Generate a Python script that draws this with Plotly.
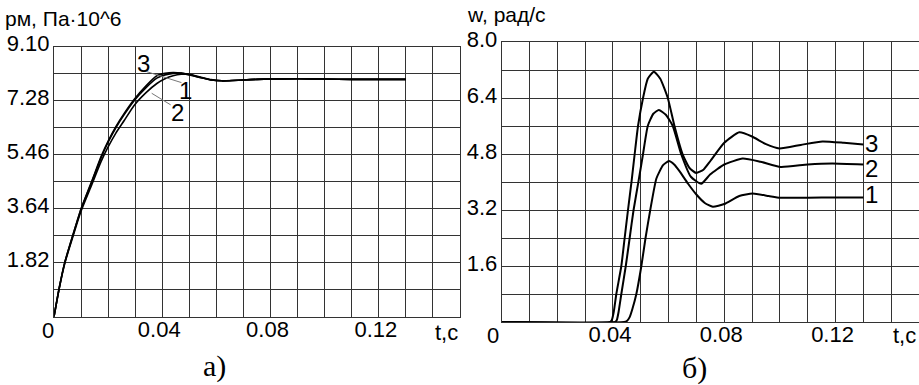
import plotly.graph_objects as go

# ---------------- data: panel a) pressure ----------------
T_P = [0, 0.002, 0.004, 0.007, 0.010, 0.014, 0.0175, 0.020, 0.0228, 0.026, 0.0296, 0.034,
       0.038, 0.041, 0.044, 0.047, 0.050, 0.054, 0.058, 0.062, 0.066, 0.070, 0.075, 0.080,
       0.090, 0.100, 0.110, 0.120, 0.130]
P1 = [0, 1.0, 1.83, 2.75, 3.62, 4.55, 5.38, 5.88, 6.36, 6.82, 7.28, 7.72, 8.04, 8.15, 8.20,
      8.21, 8.16, 8.06, 7.98, 7.95, 7.96, 7.98, 8.00, 8.01, 8.02, 8.01, 8.00, 8.00, 8.00]
P2 = [0, 0.98, 1.80, 2.70, 3.56, 4.46, 5.25, 5.72, 6.18, 6.62, 7.12, 7.55, 7.86, 8.02, 8.12,
      8.17, 8.17, 8.08, 7.99, 7.95, 7.96, 7.98, 8.00, 8.01, 8.02, 8.01, 8.00, 8.00, 8.00]
P3 = [0, 1.0, 1.84, 2.76, 3.64, 4.58, 5.42, 5.92, 6.40, 6.86, 7.32, 7.78, 8.12, 8.20, 8.23,
      8.21, 8.15, 8.06, 7.98, 7.95, 7.96, 7.98, 8.00, 8.01, 8.02, 8.01, 8.00, 8.00, 8.00]

# ---------------- data: panel б) angular speed ----------------
T_W1 = [0, 0.0440, 0.0450, 0.0460, 0.0470, 0.0484, 0.0502, 0.0517, 0.0534, 0.0556, 0.0580,
        0.0601, 0.0620, 0.0639, 0.0670, 0.0699, 0.0730, 0.0759, 0.0800, 0.0854, 0.0902,
        0.0960, 0.1001, 0.1100, 0.1200, 0.1300]
W1 = [0, 0, 0.03, 0.14, 0.38, 0.8, 1.6, 2.4, 3.2, 4.1, 4.48, 4.60, 4.50, 4.31, 3.95, 3.65,
      3.40, 3.29, 3.37, 3.60, 3.67, 3.60, 3.55, 3.55, 3.56, 3.56]
T_W2 = [0, 0.0408, 0.0414, 0.0420, 0.0430, 0.0446, 0.0460, 0.0474, 0.0492, 0.0508, 0.0525,
        0.0545, 0.0565, 0.0590, 0.0615, 0.0645, 0.0680, 0.0717, 0.0750, 0.0800, 0.0866,
        0.0930, 0.1003, 0.1100, 0.1188, 0.1300]
W2 = [0, 0, 0.06, 0.28, 0.8, 1.6, 2.4, 3.2, 4.03, 4.8, 5.6, 5.95, 6.06, 5.92, 5.6, 4.8, 4.15,
      3.95, 4.22, 4.50, 4.67, 4.58, 4.43, 4.50, 4.53, 4.50]
T_W3 = [0, 0.0390, 0.0396, 0.0403, 0.0412, 0.0430, 0.0442, 0.0454, 0.0467, 0.0478, 0.0490,
        0.0508, 0.0525, 0.0547, 0.0570, 0.0597, 0.0621, 0.0650, 0.0675, 0.0699, 0.0725,
        0.0750, 0.0800, 0.0854, 0.0900, 0.0950, 0.0998, 0.1075, 0.1153, 0.1230, 0.1300]
W3 = [0, 0, 0.06, 0.3, 0.8, 1.6, 2.4, 3.2, 4.03, 4.8, 5.6, 6.4, 6.95, 7.15, 6.95, 6.4, 5.6,
      4.8, 4.40, 4.26, 4.35, 4.6, 5.12, 5.42, 5.30, 5.08, 4.96, 5.06, 5.16, 5.12, 5.07]

# ---------------- ticks ----------------
X_TICKS = [0.00, 0.01, 0.02, 0.03, 0.04, 0.05, 0.06, 0.07, 0.08, 0.09, 0.10, 0.11, 0.12,
           0.13, 0.14, 0.15]
X_LABELS = ["", "", "", "", "0.04", "", "", "", "0.08", "", "", "", "0.12", "", "", ""]
P_TICKS = [0, 0.91, 1.82, 2.73, 3.64, 4.55, 5.46, 6.37, 7.28, 8.19, 9.10]
P_LABELS = ["", "", "1.82", "", "3.64", "", "5.46", "", "7.28", "", "9.10"]
W_TICKS = [0, 0.8, 1.6, 2.4, 3.2, 4.0, 4.8, 5.6, 6.4, 7.2, 8.0]
W_LABELS = ["", "", "1.6", "", "3.2", "", "4.8", "", "6.4", "", "8.0"]

W, H = 919, 385
FONT = "Liberation Sans, Arial, sans-serif"
SERIF = "Liberation Serif, Times New Roman, serif"
GRID = "#333333"

fig = go.Figure()
for y in (P1, P2, P3):
    fig.add_trace(go.Scatter(x=T_P, y=y, mode="lines", xaxis="x", yaxis="y",
                             line=dict(color="black", width=1.6, shape="spline", smoothing=0.6),
                             showlegend=False, hoverinfo="skip"))
for t, y in ((T_W1, W1), (T_W2, W2), (T_W3, W3)):
    fig.add_trace(go.Scatter(x=t, y=y, mode="lines", xaxis="x2", yaxis="y2",
                             line=dict(color="black", width=2, shape="spline", smoothing=0.5),
                             showlegend=False, hoverinfo="skip", cliponaxis=False))


def px(x):
    return x / W


def py(y):
    return 1 - y / H


axis_common = dict(showgrid=True, gridcolor=GRID, gridwidth=1, zeroline=False,
                   showline=True, linecolor=GRID, linewidth=1, mirror=True,
                   ticks="", tickmode="array", automargin=False,
                   tickfont=dict(family=FONT, size=22, color="black"))
x_extra = dict(ticklabelstandoff=-7, ticklabelshift=-3)
y_extra = dict(ticklabelshift=-3, ticklabelstandoff=-1)

fig.update_layout(
    width=W, height=H,
    margin=dict(l=0, r=0, t=0, b=0, autoexpand=False),
    paper_bgcolor="white", plot_bgcolor="white",
    xaxis=dict(domain=[px(54), px(460)], range=[0, 0.15], anchor="y",
               tickvals=X_TICKS, ticktext=X_LABELS, **x_extra, **axis_common),
    yaxis=dict(domain=[py(316.7), py(46.7)], range=[0, 9.10], anchor="x",
               tickvals=P_TICKS, ticktext=P_LABELS, **y_extra, **axis_common),
    xaxis2=dict(domain=[px(501.7), 1.0], range=[0, 0.15], anchor="y2",
                tickvals=X_TICKS, ticktext=X_LABELS, **x_extra, **axis_common),
    yaxis2=dict(domain=[py(322), py(42)], range=[0, 8.0], anchor="x2",
                tickvals=W_TICKS, ticktext=W_LABELS, **y_extra, **axis_common),
)

ann = []
txt = dict(family=FONT, size=22, color="black")
ttl = dict(family=FONT, size=21, color="black")
num = dict(family=FONT, size=24, color="black")
# axis titles
ann.append(dict(text="рм, Па·10^6", x=px(4), y=py(18), xref="paper", yref="paper",
                xanchor="left", yanchor="middle", showarrow=False, font=ttl, borderpad=0))
ann.append(dict(text="w, рад/с", x=px(466), y=py(14), xref="paper", yref="paper",
                xanchor="left", yanchor="middle", showarrow=False, font=ttl, borderpad=0))
# origin and t labels
ann.append(dict(text="0", x=px(47.5), y=py(330), xref="paper", yref="paper",
                xanchor="center", yanchor="middle", showarrow=False, font=txt))
ann.append(dict(text="t,c", x=px(446), y=py(332), xref="paper", yref="paper",
                xanchor="center", yanchor="middle", showarrow=False, font=txt))
ann.append(dict(text="0", x=px(493), y=py(335), xref="paper", yref="paper",
                xanchor="center", yanchor="middle", showarrow=False, font=txt))
ann.append(dict(text="t,c", x=px(904), y=py(335), xref="paper", yref="paper",
                xanchor="center", yanchor="middle", showarrow=False, font=txt))
# panel captions
ann.append(dict(text="а)", x=px(214), y=py(366), xref="paper", yref="paper",
                xanchor="center", yanchor="middle",
                showarrow=False, font=dict(family=SERIF, size=30, color="black")))
ann.append(dict(text="б)", x=px(694), y=py(368), xref="paper", yref="paper",
                xanchor="center", yanchor="middle",
                showarrow=False, font=dict(family=SERIF, size=30, color="black")))
# curve numbers, panel a
for s, x, y in (("3", 0.0332, 8.53), ("1", 0.0487, 7.61), ("2", 0.0456, 6.88)):
    ann.append(dict(text=s, x=x, y=y, xref="x", yref="y", showarrow=False, font=num))
# curve numbers, panel b
for s, x, y in (("3", 0.1331, 5.09), ("2", 0.1331, 4.38), ("1", 0.1331, 3.63)):
    ann.append(dict(text=s, x=x, y=y, xref="x2", yref="y2", showarrow=False, font=num))
fig.update_layout(annotations=ann)

# leader lines for labels in panel a
fig.add_shape(type="line", xref="x", yref="y", x0=0.0342, y0=8.26, x1=0.0471, y1=7.89,
              line=dict(color="#777777", width=1))
fig.add_shape(type="line", xref="x", yref="y", x0=0.0431, y0=7.14, x1=0.0361, y1=7.53,
              line=dict(color="#777777", width=1))

fig.write_html(
    "out.html",
    config={"displayModeBar": False},
    post_script="document.body.style.margin='0';document.body.style.overflow='hidden';",
)
